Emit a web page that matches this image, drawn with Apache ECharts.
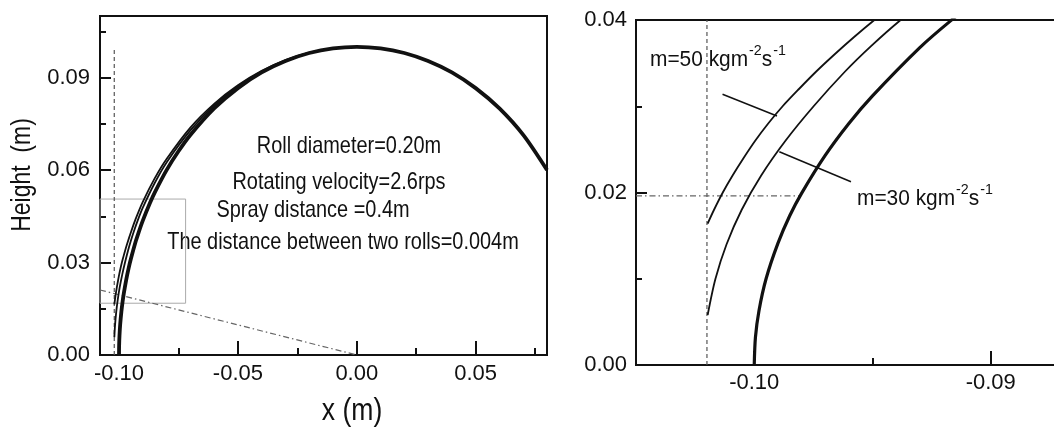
<!DOCTYPE html>
<html><head><meta charset="utf-8">
<script src="https://cdn.jsdelivr.net/npm/echarts@6/dist/echarts.min.js"></script>
<style>html,body{margin:0;padding:0;background:#fff}#c{width:1054px;height:433px}</style>
</head><body><div id="c"></div>
<script>
const FONT = '"Liberation Sans", Arial, Helvetica, sans-serif';

// Roll surface (thick curve)
const rollSurface = [
  [-0.1000,0.0000],[-0.09995,0.0032],[-0.0998,0.0063],[-0.0995,0.0100],[-0.0990,0.0141],
  [-0.0985,0.0173],[-0.0980,0.0199],[-0.0970,0.0243],[-0.0960,0.0280],[-0.0950,0.0312],
  [-0.0930,0.0368],[-0.0917,0.0399],[-0.0900,0.0436],[-0.0870,0.0493],[-0.0850,0.0527],
  [-0.0800,0.0600],[-0.0750,0.0661],[-0.0700,0.0714],[-0.0600,0.0800],[-0.0500,0.0866],
  [-0.0400,0.0917],[-0.0300,0.0954],[-0.0200,0.0980],[-0.0100,0.0995],[0.0000,0.1000],
  [0.0100,0.0995],[0.0200,0.0980],[0.0300,0.0954],[0.0400,0.0917],[0.0500,0.0866],
  [0.0600,0.0800],[0.0700,0.0714],[0.0800,0.0600]
];
// Trajectory m=50 kg m^-2 s^-1
const trajM50 = [
  [-0.10197,0.0164],[-0.10170,0.0180],[-0.10133,0.0200],[-0.10091,0.0220],[-0.10045,0.0240],
  [-0.09996,0.0260],[-0.09941,0.0280],[-0.09880,0.0300],[-0.09811,0.0320],[-0.09739,0.0340],
  [-0.09661,0.0360],[-0.09579,0.0380],[-0.09492,0.0400],[-0.09308,0.0440],[-0.0900,0.0497],
  [-0.0850,0.0573],[-0.0800,0.0636],[-0.0700,0.0738],[-0.0600,0.0815],[-0.0500,0.0875],
  [-0.0400,0.0922],[-0.0300,0.0957],[-0.0200,0.0981],[-0.0100,0.0995],[0.0000,0.1000]
];
// Trajectory m=30 kg m^-2 s^-1
const trajM30 = [
  [-0.10197,0.0058],[-0.10164,0.0100],[-0.10117,0.0140],[-0.10053,0.0180],[-0.09970,0.0220],
  [-0.09868,0.0260],[-0.09749,0.0300],[-0.09617,0.0340],[-0.09505,0.0370],[-0.09381,0.0400],
  [-0.09197,0.0440],[-0.0900,0.0478],[-0.0850,0.0558],[-0.0800,0.0625],[-0.0700,0.0729],
  [-0.0600,0.0810],[-0.0500,0.0872],[-0.0400,0.0920],[-0.0300,0.0955],[-0.0200,0.0980],
  [-0.0100,0.0995],[0.0000,0.1000]
];
// Guides, left panel
const guideVerticalL = [[-0.102,0],[-0.102,0.099]];
const guideRadialL = [[-0.108,0.0211],[0,0]];
const zoomBoxL = [[-0.108,0.0168],[-0.072,0.0168],[-0.072,0.0506],[-0.108,0.0506],[-0.108,0.0168]];
// Guides, right panel
const guideVerticalR = [[-0.102,0],[-0.102,0.04]];
const guideHorizR = [[-0.105,0.0196],[-0.09806,0.0196]];
const leaderM50 = [[-0.10134,0.03139],[-0.09904,0.02887]];
const leaderM30 = [[-0.09894,0.02473],[-0.09591,0.02125]];
// Ticks
const leftXMajor = [-0.10,-0.05,0.00,0.05];
const leftXMinor = [-0.075,-0.025,0.025,0.075];
const leftYMajor = [0.00,0.03,0.06,0.09];
const leftYMinor = [0.015,0.045,0.075,0.105];
const rightXMajor = [-0.10,-0.09];
const rightXMinor = [-0.095];
const rightYMajor = [0.00,0.02,0.04];
const rightYMinor = [0.01,0.03];

const INK = '#111';
const fmt = v => v.toFixed(2);

function majorAxis(grid, min, max, vals, tickLen, margin, pos) {
  return {
    type:'value', gridIndex:grid, min:min, max:max, position:pos,
    axisLine:{show:true, onZero:false, lineStyle:{color:INK, width:2}},
    axisTick:{show:true, inside:true, length:tickLen, customValues:vals, lineStyle:{color:INK, width:2}},
    axisLabel:{show:true, customValues:vals, formatter:fmt, fontSize:22, fontFamily:FONT, color:INK, margin:margin},
    splitLine:{show:false}
  };
}
function minorAxis(grid, min, max, vals, tickLen, pos) {
  return {
    type:'value', gridIndex:grid, min:min, max:max, position:pos,
    axisLine:{show:false, onZero:false},
    axisTick:{show:true, inside:true, length:tickLen, customValues:vals, lineStyle:{color:INK, width:2}},
    axisLabel:{show:false}, splitLine:{show:false}
  };
}
function line(xi, data, width, color, type, smooth) {
  return {
    type:'line', xAxisIndex:xi, yAxisIndex:xi, data:data, showSymbol:false, symbol:'none',
    smooth:smooth ? 0.3 : false,
    lineStyle:{width:width, color:color, type:type || 'solid'}, silent:true, clip:true, z:3
  };
}
function txt(x, y, s, size, sx, extra) {
  return Object.assign({type:'text', x:x, y:y, scaleX:sx,
    style:{text:s, fontSize:size, fontFamily:FONT, fill:INK, align:'center', verticalAlign:'middle'}}, extra || {});
}
const supRich = {
  a:{fontSize:22, fontFamily:FONT, fill:INK, lineHeight:28, verticalAlign:'bottom'},
  s:{fontSize:15, fontFamily:FONT, fill:INK, lineHeight:13, verticalAlign:'top', padding:[0,0,0,1]}
};

const chart = echarts.init(document.getElementById('c'), null, {renderer:'canvas'});
chart.setOption({
  animation:false,
  backgroundColor:'#fff',
  grid:[
    {left:100, top:16, width:447, height:339, show:true, borderColor:INK, borderWidth:2, backgroundColor:'transparent', outerBoundsMode:'none', containLabel:false},
    {left:636, top:20, width:473, height:345, show:true, borderColor:INK, borderWidth:2, backgroundColor:'transparent', outerBoundsMode:'none', containLabel:false}
  ],
  xAxis:[
    majorAxis(0,-0.108,0.08,leftXMajor,14,8,'bottom'),
    minorAxis(0,-0.108,0.08,leftXMinor,7,'bottom'),
    majorAxis(1,-0.105,-0.085,rightXMajor,14,7,'bottom'),
    minorAxis(1,-0.105,-0.085,rightXMinor,7,'bottom')
  ],
  yAxis:[
    majorAxis(0,0,0.11,leftYMajor,11,10,'left'),
    minorAxis(0,0,0.11,leftYMinor,6,'left'),
    majorAxis(1,0,0.04,rightYMajor,11,9,'left'),
    minorAxis(1,0,0.04,rightYMinor,6,'left')
  ],
  series:[
    line(0, zoomBoxL, 1, '#aaa'),
    line(0, guideVerticalL, 1.2, '#555', [4,3]),
    line(0, guideRadialL, 1.2, '#666', [6,3,1.5,3]),
    line(0, trajM50, 1.8, INK, 'solid', true),
    line(0, trajM30, 1.8, INK, 'solid', true),
    line(0, rollSurface, 3.8, INK, 'solid', true),
    line(2, guideVerticalR, 1.2, '#555', [4,3]),
    line(2, guideHorizR, 1.2, '#666', [6,3,1.5,3]),
    line(2, leaderM50, 1.5, INK),
    line(2, leaderM30, 1.5, INK),
    line(2, trajM50, 1.8, INK, 'solid', true),
    line(2, trajM30, 1.8, INK, 'solid', true),
    line(2, rollSurface, 3.2, INK, 'solid', true)
  ],
  graphic:[
    txt(349, 146, 'Roll diameter=0.20m', 24, 0.83),
    txt(339, 182, 'Rotating velocity=2.6rps', 24, 0.83),
    txt(313, 210, 'Spray distance =0.4m', 24, 0.83),
    txt(343, 242, 'The distance between two rolls=0.004m', 24, 0.83),
    txt(352, 411, 'x (m)', 32, 0.83),
    txt(22, 175, 'Height  (m)', 28, 0.82, {rotation:Math.PI/2}),
    {type:'text', x:650, y:57, scaleX:0.95, style:{text:'{a|m=50 kgm}{s|-2}{a|s}{s|-1}', fontFamily:FONT, fill:INK, align:'left', verticalAlign:'middle', rich:supRich}},
    {type:'text', x:857, y:196, scaleX:0.95, style:{text:'{a|m=30 kgm}{s|-2}{a|s}{s|-1}', fontFamily:FONT, fill:INK, align:'left', verticalAlign:'middle', rich:supRich}}
  ]
});
</script></body></html>
